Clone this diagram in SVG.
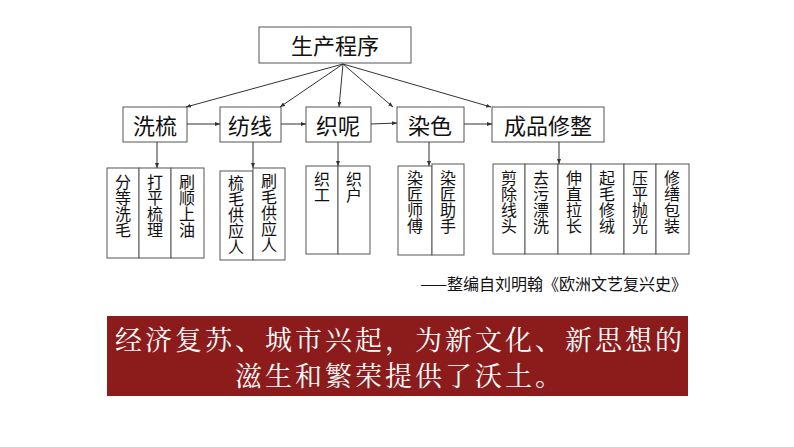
<svg xmlns="http://www.w3.org/2000/svg" width="794" height="447" viewBox="0 0 794 447">
<defs><marker id="a" viewBox="0 0 10 10" refX="10" refY="5" markerWidth="5" markerHeight="5" orient="auto"><path d="M0,1 L10,5 L0,9 z" fill="#333"/></marker></defs>
<style>
.b{fill:#fff;stroke:#555;stroke-width:1}
.t{font-family:"Noto Sans CJK SC",sans-serif;fill:#111}
.v{font-family:"Noto Sans CJK SC",sans-serif;font-size:16px;fill:#111;writing-mode:vertical-rl}
.c{stroke:#333;stroke-width:1;fill:none;marker-end:url(#a)}
</style>
<rect width="794" height="447" fill="#fff"/>
<g id="top"><rect class="b" x="259" y="27" width="152" height="36"/><text class="t" x="335" y="54" font-size="22" text-anchor="middle">生产程序</text></g>
<g id="n1"><rect class="b" x="123" y="107" width="64" height="35"/><text class="t" x="155" y="134" font-size="22" text-anchor="middle">洗梳</text></g>
<g id="n2"><rect class="b" x="220" y="107" width="61" height="35"/><text class="t" x="250" y="134" font-size="22" text-anchor="middle">纺线</text></g>
<g id="n3"><rect class="b" x="306" y="107" width="65" height="35"/><text class="t" x="338" y="134" font-size="22" text-anchor="middle">织呢</text></g>
<g id="n4"><rect class="b" x="397" y="107" width="67" height="35"/><text class="t" x="430" y="134" font-size="22" text-anchor="middle">染色</text></g>
<g id="n5"><rect class="b" x="492" y="107" width="112" height="35"/><text class="t" x="548" y="134" font-size="22" text-anchor="middle">成品修整</text></g>
<g id="leaves">
<rect class="b" x="107" y="168" width="32" height="90"/><text class="v" x="123" y="174">分等洗毛</text>
<rect class="b" x="139" y="168" width="32" height="90"/><text class="v" x="155" y="174">打平梳理</text>
<rect class="b" x="171" y="168" width="33" height="90"/><text class="v" x="187" y="174">刷顺上油</text>
<rect class="b" x="220" y="171" width="33" height="89"/><text class="v" x="236" y="175">梳毛供应人</text>
<rect class="b" x="253" y="168" width="32" height="92"/><text class="v" x="269" y="173">刷毛供应人</text>
<rect class="b" x="306" y="166" width="32" height="88"/><text class="v" x="322" y="171">织工</text>
<rect class="b" x="338" y="166" width="32" height="88"/><text class="v" x="354" y="171">织户</text>
<rect class="b" x="398" y="166" width="34" height="89"/><text class="v" x="415" y="170">染匠师傅</text>
<rect class="b" x="432" y="164" width="32" height="91"/><text class="v" x="448" y="170">染匠助手</text>
<rect class="b" x="493" y="164" width="32" height="90"/><text class="v" x="509" y="170">剪除线头</text>
<rect class="b" x="525" y="164" width="33" height="90"/><text class="v" x="541" y="170">去污漂洗</text>
<rect class="b" x="558" y="164" width="33" height="90"/><text class="v" x="574" y="170">伸直拉长</text>
<rect class="b" x="591" y="164" width="33" height="90"/><text class="v" x="607" y="170">起毛修绒</text>
<rect class="b" x="624" y="164" width="32" height="90"/><text class="v" x="640" y="170">压平抛光</text>
<rect class="b" x="656" y="164" width="33" height="90"/><text class="v" x="672" y="170">修缮包装</text>
</g>
<g id="connectors">
<line class="c" x1="343" y1="64" x2="186" y2="107"/>
<line class="c" x1="343" y1="64" x2="280" y2="107"/>
<line class="c" x1="343" y1="64" x2="339" y2="107"/>
<line class="c" x1="343" y1="64" x2="393" y2="107"/>
<line class="c" x1="343" y1="64" x2="491" y2="107"/>
<line class="c" x1="187" y1="124" x2="220" y2="124"/>
<line class="c" x1="281" y1="124" x2="306" y2="124"/>
<line class="c" x1="371" y1="124" x2="397" y2="123"/>
<line class="c" x1="464" y1="124" x2="492" y2="124"/>
<line class="c" x1="157" y1="142" x2="157" y2="168"/>
<line class="c" x1="253" y1="142" x2="253" y2="168"/>
<line class="c" x1="338" y1="142" x2="338" y2="166"/>
<line class="c" x1="429" y1="142" x2="429" y2="166"/>
<line class="c" x1="559" y1="142" x2="559" y2="164"/>
</g>
<text class="t" x="687" y="290" font-size="16" text-anchor="end">——整编自刘明翰《欧洲文艺复兴史》</text>
<g id="banner"><rect x="107" y="316" width="581" height="80" fill="#8c1c1c"/>
<text x="400" y="350" font-family="'Noto Serif CJK SC','Noto Sans CJK SC',serif" font-size="27" fill="#fff" text-anchor="middle" letter-spacing="3">经济复苏、城市兴起，为新文化、新思想的</text>
<text x="400" y="386" font-family="'Noto Serif CJK SC','Noto Sans CJK SC',serif" font-size="27" fill="#fff" text-anchor="middle" letter-spacing="3">滋生和繁荣提供了沃土。</text></g>
</svg>
